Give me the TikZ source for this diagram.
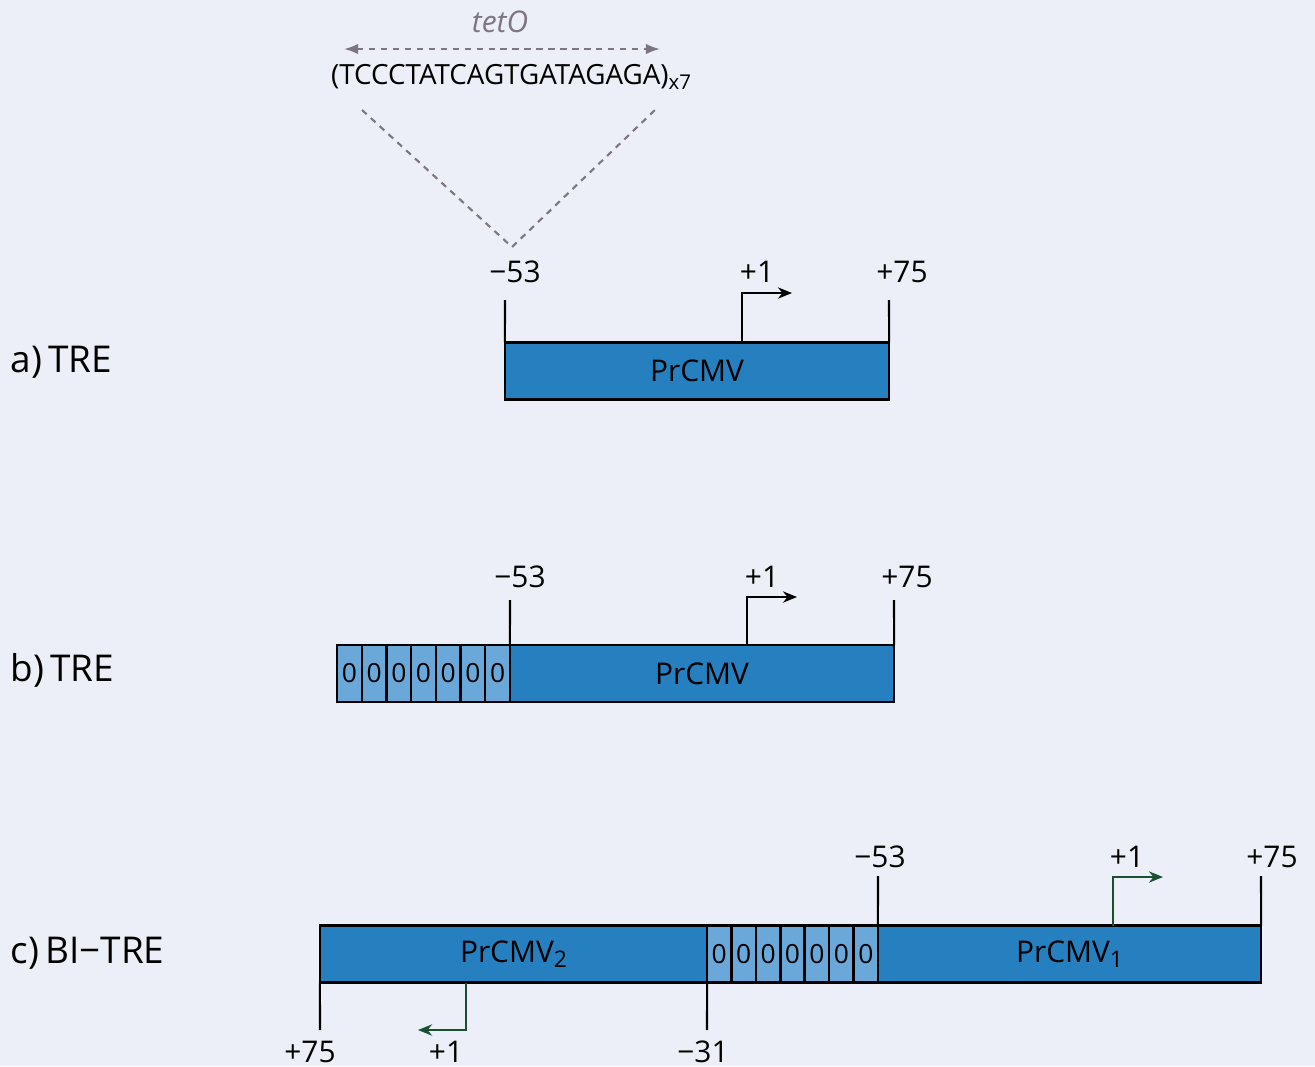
\documentclass[tikz,border=0pt]{standalone}
\usepackage{fontspec}
\setmainfont{Open Sans}
\usetikzlibrary{arrows.meta}
\definecolor{bgcol}{RGB}{236,239,247}
\definecolor{prblue}{RGB}{38,128,192}
\definecolor{opblue}{RGB}{105,168,216}
\definecolor{tssgreen}{RGB}{25,80,50}
\definecolor{dotgray}{RGB}{125,118,130}

\begin{document}
\begin{tikzpicture}[x=0.01cm,y=-0.01cm,font=\fontsize{8.5}{10}\selectfont,
  prbox/.style={draw,fill=prblue,line width=0.7pt,minimum height=0.57cm,inner sep=0pt,outer sep=0pt},
  opbox/.style={draw,fill=opblue,line width=0.7pt,minimum height=0.57cm,minimum width=0.247cm,inner sep=0pt,outer sep=0pt,font=\fontsize{7.5}{8}\selectfont},
  tick/.style={line width=0.6pt},
  tss/.style={line width=0.6pt,-{Stealth[length=4pt,width=3.2pt]}},
  dotline/.style={dotgray,line width=0.6pt,dash pattern=on 1.8pt off 1.6pt},
  rowlabel/.style={font=\fontsize{10.5}{12}\selectfont,anchor=west,inner sep=0pt}]
\fill[bgcol] (0,0) rectangle (1315,1066);
\useasboundingbox (0,0) rectangle (1315,1066);

% tetO
\node[dotgray,font=\fontsize{8.5}{10}\selectfont\itshape] (teto) at (500,22) {tetO};
\coordinate (tl) at (344,49);
\coordinate (tr) at (660,49);
\draw[dotline,{Latex[length=4pt,width=3pt]}-{Latex[length=4pt,width=3pt]}] (tl) -- (tr);
\node[font=\fontsize{7.9}{10}\selectfont] (seq) at (511,77) {(TCCCTATCAGTGATAGAGA)\raisebox{-1.5pt}{\fontsize{5.8}{6}\selectfont x7}};
\coordinate (vl) at (362,110);
\coordinate (vr) at (655,110);
\coordinate (vtip) at (512,247);
\draw[dotline] (vl) -- (vtip) -- (vr);

% a) TRE
\node[rowlabel] (la) at (10,362) {a)\,TRE};
\node[prbox,minimum width=3.84cm] (pa) at (697,371) {PrCMV};
\coordinate (a53) at (505,300);
\coordinate (a75) at (889,300);
\coordinate (a1) at (742,293);
\coordinate (a1e) at (792,293);
\draw[tick] (pa.north west) -- (a53);
\draw[tick] (pa.north east) -- (a75);
\draw[tss] (pa.north west -| a1) -- (a1) -- (a1e);
\node (na53) at (515,272) {−53};
\node (na1) at (757,272) {+1};
\node (na75) at (902,272) {+75};

% b) TRE
\node[rowlabel] (lb) at (10,670) {b)\,TRE};
\foreach \i in {0,...,6}
  \node[opbox] (ob\i) at ({349.4+24.7*\i},673.5) {0};
\node[prbox,minimum width=3.84cm] (pb) at (702,673.5) {PrCMV};
\coordinate (b53) at (510,600);
\coordinate (b75) at (894,600);
\coordinate (b1) at (747,597);
\coordinate (b1e) at (797,597);
\draw[tick] (pb.north west) -- (b53);
\draw[tick] (pb.north east) -- (b75);
\draw[tss] (pb.north west -| b1) -- (b1) -- (b1e);
\node (nb53) at (520,577) {−53};
\node (nb1) at (762,577) {+1};
\node (nb75) at (907,577) {+75};

% c) BI-TRE
\node[rowlabel] (lc) at (10,953) {c)\,BI−TRE};
\node[prbox,minimum width=3.87cm] (pc2) at (513.5,954) {PrCMV\raisebox{-1.5pt}{\fontsize{6.5}{6}\selectfont 2}};
\foreach \i in {0,...,6}
  \node[opbox,minimum width=0.2443cm] (oc\i) at ({719.2+24.43*\i},954) {0};
\node[prbox,minimum width=3.83cm] (pc1) at (1069.5,954) {PrCMV\raisebox{-1.5pt}{\fontsize{6.5}{6}\selectfont 1}};
\coordinate (c53) at (878,876);
\coordinate (c75) at (1261,876);
\coordinate (c1) at (1113,877);
\coordinate (c1e) at (1163,877);
\coordinate (c75b) at (320,1030);
\coordinate (c31) at (707,1030);
\coordinate (c1b) at (466,1030);
\coordinate (c1be) at (418,1030);
\draw[tick] (pc1.north west) -- (c53);
\draw[tick] (pc1.north east) -- (c75);
\draw[tss,tssgreen] (pc1.north west -| c1) -- (c1) -- (c1e);
\draw[tick] (pc2.south west) -- (c75b);
\draw[tick] (pc2.south east) -- (c31);
\draw[tss,tssgreen] (pc2.south west -| c1b) -- (c1b) -- (c1be);
\node (nc53) at (880,857) {−53};
\node (nc1) at (1127,857) {+1};
\node (nc75) at (1272,857) {+75};
\node (nc75b) at (310,1052) {+75};
\node (nc1b) at (446,1052) {+1};
\node (nc31) at (703,1052) {−31};
\end{tikzpicture}
\end{document}
